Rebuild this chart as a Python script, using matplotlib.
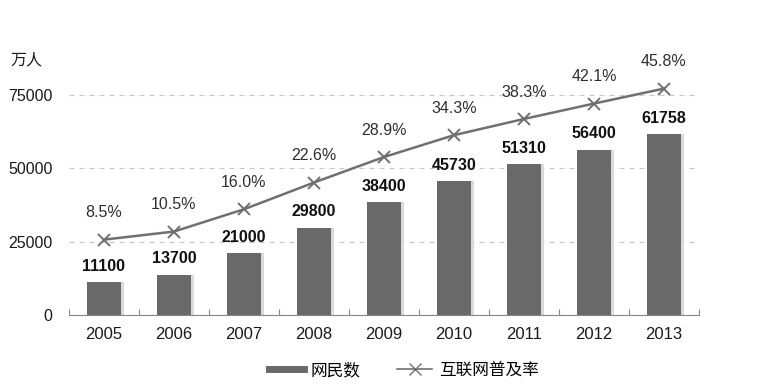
import numpy as np
import matplotlib.pyplot as plt
from matplotlib.lines import Line2D

plt.rcParams['font.family'] = ['Liberation Sans', 'Noto Sans CJK SC', 'DejaVu Sans']

#%% Data
years = ['2005', '2006', '2007', '2008', '2009', '2010', '2011', '2012', '2013']
users = [11100, 13700, 21000, 29800, 38400, 45730, 51310, 56400, 61758]
rate = [8.5, 10.5, 16.0, 22.6, 28.9, 34.3, 38.3, 42.1, 45.8]

x = np.arange(len(years))

#%% Figure
fig = plt.figure(figsize=(7.68, 3.86), dpi=100)
ax = fig.add_axes([0.0898, 0.184, 0.8203, 0.661])
ax2 = ax.twinx()

# light shadow to the right of each bar
ax.bar(x + 0.265, users, width=0.05, color='#dadada', zorder=2)
ax.bar(x, users, width=0.48, color='#696969', zorder=3)

for xi, v in zip(x, users):
    ax.annotate(str(v), (xi, v), xytext=(0, 6), textcoords='offset points',
                ha='center', va='bottom', fontsize=11.5, fontweight='bold', color='#111111')

ax.set_xlim(-0.5, len(years) - 0.5)
ax.set_ylim(0, 87000)
ax.set_yticks([0, 25000, 50000, 75000])
ax.set_yticklabels(['0', '25000', '50000', '75000'], fontsize=11.5, color='#1a1a1a')
ax.tick_params(axis='y', length=0, pad=12)
ax.yaxis.grid(True, linestyle=(0, (4, 4)), color='#c8c8c8', linewidth=0.9)
ax.set_axisbelow(True)

# tick marks at category boundaries, labels at centres
ax.set_xticks(np.arange(-0.5, len(years), 1.0))
ax.set_xticklabels([])
ax.tick_params(axis='x', which='major', direction='in', length=4, color='#888888')
ax.set_xticks(x, minor=True)
ax.set_xticklabels(years, minor=True, fontsize=12, color='#1a1a1a')
ax.tick_params(axis='x', which='minor', length=0, pad=9)

for s in ['top', 'right', 'left']:
    ax.spines[s].set_visible(False)
ax.spines['bottom'].set_color('#888888')

#%% Line on hidden secondary axis
ax2.plot(x, rate, color='#707070', lw=1.8, marker='x', ms=9, mew=1.4, zorder=4)
for xi, r in zip(x, rate):
    ax2.annotate('%.1f%%' % r, (xi, r), xytext=(0, 14), textcoords='offset points',
                 ha='center', va='bottom', fontsize=11.5, color='#2e2e2e')
ax2.set_ylim(-10.1, 52.9)
ax2.set_yticks([])
for s in ['top', 'right', 'left', 'bottom']:
    ax2.spines[s].set_visible(False)

fig.text(0.013, 0.845, '万人', fontsize=11.5, color='#1a1a1a', va='center')

#%% Legend
handles = [Line2D([], [], color='#696969', lw=5),
           Line2D([], [], color='#707070', lw=1.2, marker='x', ms=8)]
fig.legend(handles, ['网民数', '互联网普及率'], loc='center', bbox_to_anchor=(0.526, 0.041),
           ncol=2, frameon=False, fontsize=12, handlelength=2.1, handletextpad=0.4,
           columnspacing=2.2)

plt.savefig('out.png', dpi=100)
